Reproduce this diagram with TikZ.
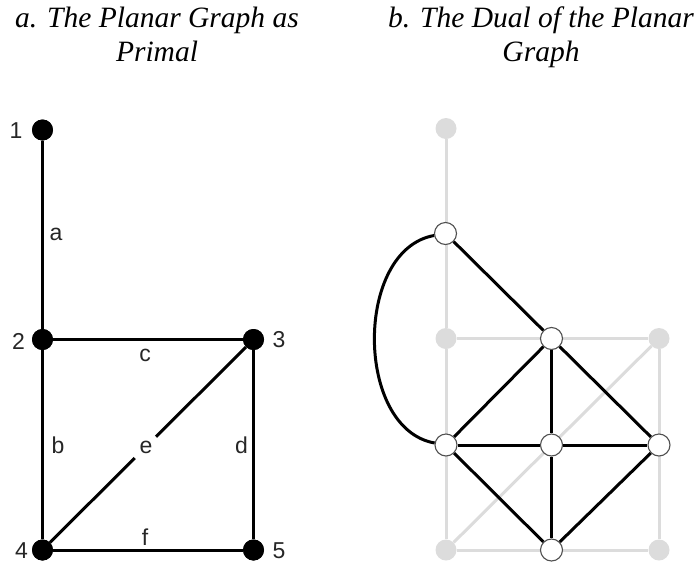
\documentclass[tikz,border=0pt]{standalone}
\usepackage{fontspec}
\setmainfont{Liberation Serif}
\newfontfamily\lblfont{Liberation Sans}
\definecolor{ltgray}{HTML}{DCDCDC}
\definecolor{ringgray}{HTML}{505050}
\begin{document}
\begin{tikzpicture}[x=1pt,y=-1pt,
  blackdot/.style={circle,fill=black,minimum size=21pt,inner sep=0pt},
  graydot/.style={circle,fill=ltgray,minimum size=21pt,inner sep=0pt},
  whitedot/.style={circle,fill=white,draw=ringgray,line width=1.1pt,minimum size=22pt,inner sep=0pt},
  edge/.style={line width=3pt,black},
  grayedge/.style={line width=3pt,ltgray},
  lbl/.style={font=\lblfont\fontsize{23}{23}\selectfont,inner sep=0pt,anchor=base,text=black!85},
  ttl/.style={font=\itshape\fontsize{29.5}{34}\selectfont,align=center,inner sep=0pt,anchor=base}]
\useasboundingbox (0,0) rectangle (699,563);
% titles
\node[ttl] (ta) at (157,61) {a. The Planar Graph as\\Primal};
\node[ttl] (tb) at (541,61) {b. The Dual of the Planar\\Graph};
% primal graph
\node[blackdot] (v1) at (42.5,130) {};
\node[blackdot] (v2) at (42.5,339.5) {};
\node[blackdot] (v3) at (253.5,339.5) {};
\node[blackdot] (v4) at (42.5,550) {};
\node[blackdot] (v5) at (253.5,550) {};
\draw[edge] (v1) -- (v2);
\draw[edge] (v2) -- (v3);
\draw[edge] (v2) -- (v4);
\draw[edge] (v3) -- (v5);
\draw[edge] (v4) -- (v5);
\draw[edge] (v4) -- (v3);
\node[blackdot] at (v1) {};
\node[blackdot] at (v2) {};
\node[blackdot] at (v3) {};
\node[blackdot] at (v4) {};
\node[blackdot] at (v5) {};
\node[lbl] (n1) at (16,138) {1};
\node[lbl] (n2) at (18.5,349) {2};
\node[lbl] (n3) at (279,347) {3};
\node[lbl] (n4) at (21.5,558) {4};
\node[lbl] (n5) at (279,558) {5};
\node[lbl] (la) at (56,240) {a};
\node[lbl] (lc) at (145,361) {c};
\node[lbl] (lb) at (58,453) {b};
\node[circle,fill=white,minimum size=30pt,inner sep=0pt] (egap) at (145,447) {};
\node[lbl] (le) at (146,453) {e};
\node[lbl] (ld) at (241.5,453) {d};
\node[lbl] (lf) at (145,545) {f};
% dual graph: primal in gray
\node[graydot] (g1) at (446,128.5) {};
\node[graydot] (g2) at (446,338.5) {};
\node[graydot] (g3) at (659,338.5) {};
\node[graydot] (g4) at (446,550) {};
\node[graydot] (g5) at (659,550) {};
\draw[grayedge] (g1) -- (g2);
\draw[grayedge] (g2) -- (g3);
\draw[grayedge] (g2) -- (g4);
\draw[grayedge] (g3) -- (g5);
\draw[grayedge] (g4) -- (g5);
\draw[grayedge] (g4) -- (g3);
% dual vertices
\node[whitedot] (dT) at (445.5,233.5) {};
\node[whitedot] (dC) at (551.5,338.5) {};
\node[whitedot] (dL) at (446,445) {};
\node[whitedot] (dM) at (551.5,445) {};
\node[whitedot] (dR) at (659,445) {};
\node[whitedot] (dB) at (551.5,550) {};
\draw[edge] (dT) -- (dC);
\draw[edge] (dT) to[out=190,in=170,looseness=1.0] (dL);
\draw[edge] (dC) -- (dL);
\draw[edge] (dC) -- (dM);
\draw[edge] (dC) -- (dR);
\draw[edge] (dL) -- (dM);
\draw[edge] (dM) -- (dR);
\draw[edge] (dL) -- (dB);
\draw[edge] (dM) -- (dB);
\draw[edge] (dR) -- (dB);
\end{tikzpicture}
\end{document}
